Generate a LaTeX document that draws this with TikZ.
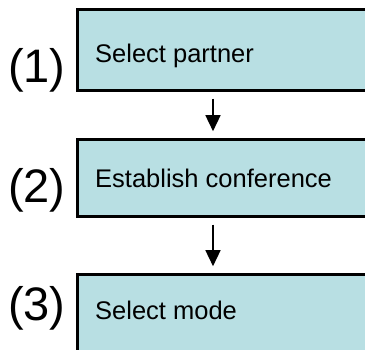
\documentclass[tikz,border=0pt]{standalone}
\usepackage{fontspec}
\setmainfont{Liberation Sans}
\usetikzlibrary{arrows.meta,calc}
\definecolor{boxfill}{RGB}{184,223,227}
\tikzset{
  stepbox/.style={draw=black, line width=2.4pt, fill=boxfill, rectangle, anchor=north west, inner sep=0pt, minimum width=300pt},
  steptext/.style={anchor=base west, inner sep=0pt, font=\fontsize{25.5}{30}\selectfont},
  numlabel/.style={anchor=base west, inner sep=0pt, font=\fontsize{47}{54}\selectfont},
  arr/.style={line width=1.5pt, -{Triangle[length=16pt,width=15pt]}, shorten <=7pt, shorten >=7pt}
}
\begin{document}
\begin{tikzpicture}[x=1pt,y=1pt]
\path[use as bounding box, clip] (0,0) rectangle (365,-349);
\node[stepbox, minimum height=81pt] (b1) at (76.2,-8.2) {};
\node[stepbox, minimum height=77pt] (b2) at (76.2,-138.2) {};
\node[stepbox, minimum height=100pt] (b3) at (76.2,-273.2) {};
\node[steptext] (t1) at (95,-62) {Select partner};
\node[steptext] (t2) at (95,-187) {Establish conference};
\node[steptext] (t3) at (95,-319) {Select mode};
\node[numlabel] (n1) at (8,-82) {(1)};
\node[numlabel] (n2) at (8,-202) {(2)};
\node[numlabel] (n3) at (8,-320) {(3)};
\coordinate (ax) at (213,0);
\draw[arr] (b1.south -| ax) -- (b2.north -| ax);
\draw[arr] (b2.south -| ax) -- (b3.north -| ax);
\end{tikzpicture}
\end{document}
